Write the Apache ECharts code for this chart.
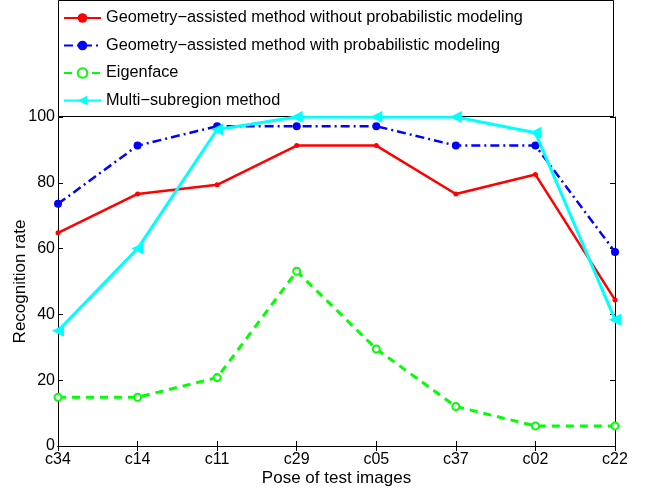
<!DOCTYPE html>
<html>
<head>
<meta charset="utf-8">
<script src="https://cdn.jsdelivr.net/npm/echarts@6/dist/echarts.min.js"></script>
<style>
  html, body { margin: 0; padding: 0; background: #fff; }
  #chart { width: 648px; height: 488px; }
</style>
</head>
<body>
<div id="chart"></div>
<script>
// poses of the test images
const poses = ['c34', 'c14', 'c11', 'c29', 'c05', 'c37', 'c02', 'c22']
const yTicks = [0, 20, 40, 60, 80, 100]

// recognition rates
const geomNoProb = [64.8, 76.6, 79.4, 91.3, 91.3, 76.6, 82.5, 44.4]
const geomProb = [73.6, 91.3, 97.2, 97.2, 97.2, 91.3, 91.3, 59.0]
const eigenface = [14.8, 14.8, 20.8, 53.1, 29.5, 12.0, 6.1, 6.1]
const multiSub = [35.0, 60.0, 96.2, 100, 100, 100, 95.2, 38.4]

const names = [
  'Geometry\u2212assisted method without probabilistic modeling',
  'Geometry\u2212assisted method with probabilistic modeling',
  'Eigenface',
  'Multi\u2212subregion method'
]

const font = 'Liberation Sans, Arial, Helvetica, sans-serif'
const tickColor = '#000'

const chart = echarts.init(document.getElementById('chart'))

const axisCommon = {
  axisLine: { show: true, lineStyle: { color: '#000', width: 1 } },
  axisTick: { show: true, inside: true, length: 5, lineStyle: { color: tickColor } },
  splitLine: { show: false }
}

chart.setOption({
  animation: false,
  backgroundColor: '#fff',
  textStyle: { fontFamily: font },
  grid: { left: 58, right: 33, top: 117, bottom: 42, containLabel: false, outerBoundsMode: 'none' },
  graphic: [{
    type: 'rect',
    shape: { x: 58.5, y: 0.5, width: 555, height: 116 },
    style: { fill: '#fff', stroke: '#000', lineWidth: 1 },
    z: 1
  }],
  legend: {
    orient: 'vertical',
    left: 63,
    top: 10,
    padding: 0,
    itemGap: 11.5,
    itemWidth: 37,
    itemHeight: 12,
    z: 10,
    textStyle: { fontSize: 16.3, color: '#000', fontFamily: font },
    data: names
  },
  xAxis: [{
    type: 'category',
    data: poses,
    boundaryGap: false,
    name: 'Pose of test images',
    nameLocation: 'middle',
    nameGap: 24,
    nameMoveOverlap: false,
    nameTextStyle: { fontSize: 17, color: '#000', fontFamily: font },
    axisLabel: { fontSize: 16, color: '#000', margin: 6, fontFamily: font },
    ...axisCommon
  }, {
    type: 'category',
    data: poses,
    boundaryGap: false,
    position: 'top',
    axisLabel: { show: false },
    ...axisCommon
  }],
  yAxis: [{
    type: 'value',
    min: 0,
    max: 100,
    interval: 20,
    name: 'Recognition rate',
    nameLocation: 'middle',
    nameGap: 29,
    nameMoveOverlap: false,
    nameTextStyle: { fontSize: 17, color: '#000', fontFamily: font },
    axisLabel: { fontSize: 16, color: '#000', margin: 3, fontFamily: font,
      formatter: v => yTicks.includes(v) ? String(v) : '' },
    ...axisCommon
  }, {
    type: 'value',
    min: 0,
    max: 100,
    interval: 20,
    position: 'right',
    axisLabel: { show: false },
    ...axisCommon
  }],
  series: [{
    name: names[0],
    type: 'line',
    data: geomNoProb,
    symbol: 'circle',
    symbolSize: 5,
    itemStyle: { color: '#ff0000' },
    lineStyle: { color: '#ff0000', width: 2.5 },
    z: 3
  }, {
    name: names[1],
    type: 'line',
    data: geomProb,
    symbol: 'circle',
    symbolSize: 8,
    itemStyle: { color: '#0000ff' },
    lineStyle: { color: '#0000ff', width: 2.5, type: [9, 4, 2, 4] },
    z: 3
  }, {
    name: names[2],
    type: 'line',
    data: eigenface,
    symbol: 'emptyCircle',
    symbolSize: 7,
    itemStyle: { color: '#00ff00', borderColor: '#00ff00', borderWidth: 3.5 },
    lineStyle: { color: '#00ff00', width: 3, type: [8, 6] },
    z: 3
  }, {
    name: names[3],
    type: 'line',
    data: multiSub,
    symbol: 'triangle',
    symbolRotate: 90,
    symbolSize: [12, 12],
    itemStyle: { color: '#00ffff' },
    lineStyle: { color: '#00ffff', width: 3 },
    z: 4
  }]
})
</script>
</body>
</html>
